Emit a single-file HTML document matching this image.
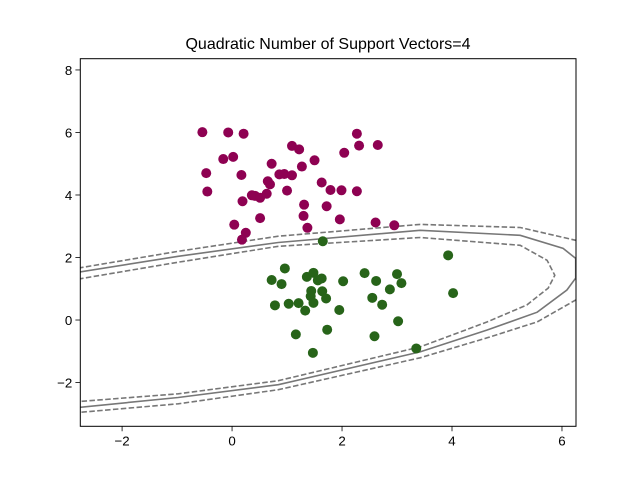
<!DOCTYPE html>
<html><head><meta charset="utf-8"><style>body{margin:0;background:#fff}svg{display:block;font-family:"Liberation Sans","DejaVu Sans",sans-serif}</style></head>
<body>
<svg id="chart" width="640" height="480" viewBox="0 0 640 480" xmlns="http://www.w3.org/2000/svg">
<rect width="640" height="480" fill="#fff"/>
<text x="328" y="49" font-size="16" text-anchor="middle" fill="#000">Quadratic Number of Support Vectors=4</text>
<defs><clipPath id="clip"><rect x="80" y="58.7" width="496" height="367.6"/></clipPath></defs>
<g id="plot" clip-path="url(#clip)"></g>
<g id="axes"></g>
<rect x="80.3" y="58.7" width="495.7" height="367.6" fill="none" stroke="#000" stroke-width="1"/>
</svg>
<script>
const xTicks = [-2, 0, 2, 4, 6];
const yTicks = [-2, 0, 2, 4, 6, 8];
const purpleX = [-0.54,-0.07,0.21,2.27,1.09,1.22,2.31,2.65,2.04,-0.16,0.02,1.50,0.72,1.27,-0.47,0.17,0.86,0.95,1.09,0.65,0.69,1.63,1.79,1.99,2.27,-0.45,0.36,0.42,0.51,0.63,1.00,0.19,1.31,1.72,1.30,0.51,1.96,0.04,2.61,2.95,1.37,0.25,0.18];
const purpleY = [6.01,6.00,5.96,5.96,5.57,5.46,5.58,5.60,5.35,5.15,5.22,5.11,5.00,4.91,4.70,4.64,4.66,4.67,4.63,4.44,4.34,4.40,4.16,4.15,4.12,4.11,3.99,3.97,3.91,4.04,4.14,3.80,3.69,3.64,3.33,3.26,3.22,3.05,3.12,3.03,2.95,2.79,2.57];
const greenX = [1.65,3.93,0.96,0.72,0.90,1.36,1.48,1.56,1.63,2.02,2.41,2.62,3.00,3.08,2.87,1.44,1.64,1.43,1.71,4.02,0.78,1.03,1.21,1.48,1.33,1.95,2.55,2.73,3.02,1.16,1.73,2.59,3.35,1.47];
const greenY = [2.52,2.07,1.65,1.28,1.15,1.38,1.51,1.27,1.33,1.24,1.50,1.25,1.47,1.18,0.98,0.93,0.92,0.76,0.69,0.86,0.47,0.52,0.54,0.55,0.30,0.32,0.71,0.49,-0.04,-0.46,-0.31,-0.52,-0.91,-1.05];
const solidX = [-2.8,-0.98,0.84,3.42,5.24,6.02,6.25,6.25,6.09,5.55,4.64,3.42,0.84,-0.98,-2.8];
const solidY = [1.53,2.04,2.48,2.87,2.71,2.29,1.97,1.34,0.96,0.25,-0.32,-1.02,-2.07,-2.48,-2.80];
const outerUpX = [-2.8,-0.98,0.84,3.42,5.24,6.25,6.4];
const outerUpY = [1.66,2.20,2.68,3.06,2.96,2.55,2.45];
const outerLoX = [6.4,6.25,5.55,4.64,3.42,0.84,-0.98,-2.8];
const outerLoY = [0.72,0.64,-0.06,-0.57,-1.21,-2.23,-2.68,-2.96];
const innerX = [-2.8,-0.98,0.84,3.42,5.24,5.73,5.87,5.75,5.36,4.64,3.42,0.84,-0.98,-2.8];
const innerY = [1.31,1.85,2.36,2.64,2.39,1.91,1.43,1.02,0.48,-0.06,-0.86,-1.94,-2.36,-2.61];

const X0=80.3,X1=576,Y0=58.7,Y1=426.3,xmin=-2.76,xmax=6.255,ymin=-3.40,ymax=8.36;
const sx=v=>X0+(v-xmin)/(xmax-xmin)*(X1-X0);
const sy=v=>Y1-(v-ymin)/(ymax-ymin)*(Y1-Y0);
const NS='http://www.w3.org/2000/svg';
const plot=document.getElementById('plot'), axes=document.getElementById('axes');
function mk(t,a,p){const e=document.createElementNS(NS,t);for(const k in a)e.setAttribute(k,a[k]);p.appendChild(e);return e;}
function line(xs,ys,dash,name){
  const pts=xs.map((x,i)=>sx(x).toFixed(1)+','+sy(ys[i]).toFixed(1)).join(' ');
  const e=mk('polyline',{points:pts,fill:'none',stroke:'#777','stroke-width':1.6},plot);
  if(dash)e.setAttribute('stroke-dasharray','5.5,2.4');
  
  
}
line(solidX,solidY,false,'decision-boundary');
line(outerUpX,outerUpY,true,'margin-outer-upper');
line(outerLoX,outerLoY,true,'margin-outer-lower');
line(innerX,innerY,true,'margin-inner');
purpleX.forEach((x,i)=>{
  const c=mk('circle',{cx:sx(x),cy:sy(purpleY[i]),r:5,fill:'#8e0152'},plot);
  
  
});
greenX.forEach((x,i)=>{
  const c=mk('circle',{cx:sx(x),cy:sy(greenY[i]),r:5,fill:'#276419'},plot);
  
  
});
xTicks.forEach(t=>{
  const x=sx(t);
  const l=mk('line',{x1:x,x2:x,y1:Y1,y2:Y1+4.9,stroke:'#000','stroke-width':0.8},axes);
  
  
  const tx=mk('text',{x:x,y:Y1+19,'font-size':13.3,'text-anchor':'middle',fill:'#000'},axes);
  tx.textContent=t<0?'\u2212'+(-t):String(t);
  
  
});
yTicks.forEach(t=>{
  const y=sy(t);
  const l=mk('line',{x1:X0-4.9,x2:X0,y1:y,y2:y,stroke:'#000','stroke-width':0.8},axes);
  
  
  const tx=mk('text',{x:X0-8,y:y+4.8,'font-size':13.3,'text-anchor':'end',fill:'#000'},axes);
  tx.textContent=t<0?'\u2212'+(-t):String(t);
  
  
});
</script>
</body></html>
